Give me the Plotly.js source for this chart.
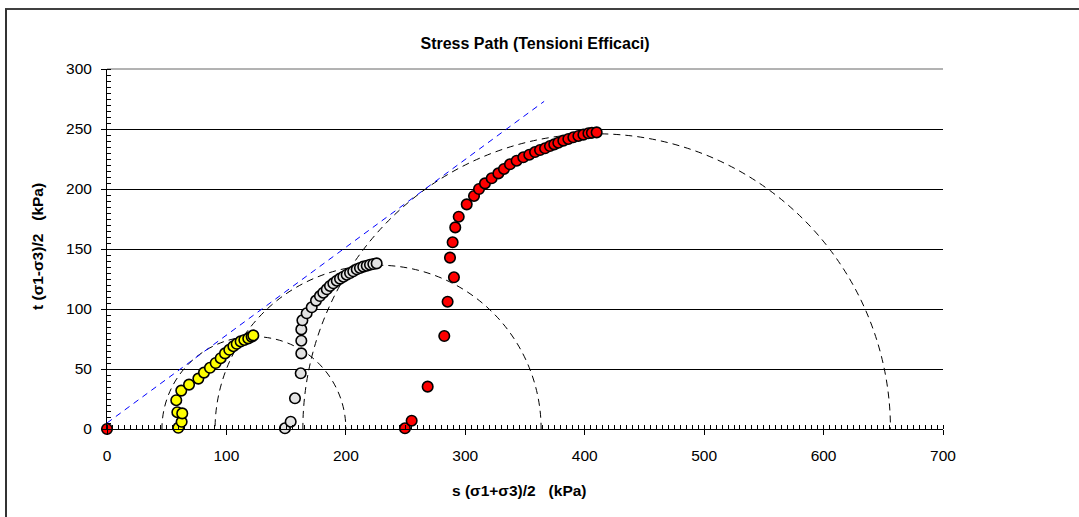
<!DOCTYPE html>
<html>
<head>
<meta charset="utf-8">
<script src="https://cdn.plot.ly/plotly-3.0.1.min.js"></script>
<style>
  html, body { margin: 0; padding: 0; background: #fff; }
  #chart { width: 1079px; height: 517px; }
</style>
</head>
<body>
<div id="chart"></div>
<script>
// ---- data (kPa) ----
const yellowS = [59.7, 62.5, 58.9, 63.0, 58.0, 62.2, 68.7, 76.5, 81.2, 86.2, 91.0, 95.2, 98.8, 102.4, 105.8, 108.6, 111.9, 115.0, 118.3, 121.1, 122.5];
const yellowT = [1.0, 6.0, 14.0, 13.0, 24.0, 32.0, 37.0, 42.0, 47.0, 51.0, 55.0, 59.0, 63.0, 66.0, 69.0, 71.0, 73.0, 74.2, 75.5, 77.0, 78.0];

const whiteS = [149.0, 153.8, 157.4, 162.2, 162.7, 162.7, 162.7, 163.6, 167.2, 171.4, 175.0, 178.3, 181.1, 184.0, 186.7, 189.5, 192.4, 195.1, 197.9, 200.7, 203.5, 206.2, 209.1, 211.8, 214.6, 217.5, 220.2, 223.0, 225.8];
const whiteT = [0.6, 6.1, 25.6, 46.4, 63.0, 73.6, 83.0, 90.6, 96.4, 101.4, 107.0, 110.8, 113.6, 116.4, 119.2, 121.4, 123.6, 125.3, 126.9, 128.6, 130.0, 131.4, 133.1, 134.2, 135.3, 136.1, 136.9, 137.5, 138.0];

const redS = [0, 249.5, 255.1, 268.5, 282.4, 285.2, 290.5, 287.2, 289.4, 291.6, 294.5, 301.2, 307.3, 311.5, 316.5, 322.1, 327.7, 332.4, 337.4, 343.0, 348.6, 353.6, 358.4, 362.6, 366.8, 370.9, 374.5, 377.9, 382.1, 386.3, 390.5, 394.7, 398.9, 403.1, 406.0, 410.0];
const redT = [0, 0.6, 6.9, 35.3, 77.5, 106.1, 126.4, 142.8, 155.6, 168.0, 176.9, 187.2, 194.2, 200.0, 204.7, 208.9, 213.0, 216.7, 220.6, 223.6, 226.4, 228.6, 230.8, 232.5, 233.9, 235.8, 237.2, 238.6, 240.3, 241.7, 243.1, 244.2, 245.3, 246.4, 246.8, 247.2];

// Mohr circles (centre s, radius t)
const circleCentre = [123, 227, 410];
const circleRadius = [77, 136.5, 246];

// failure envelope
const envS = [0, 366];
const envT = [5, 273];

const titleText = 'Stress Path (Tensioni Efficaci)';
const xTitle = 's (σ1+σ3)/2\u00A0\u00A0\u00A0(kPa)';
const yTitle = 't (σ1-σ3)/2\u00A0\u00A0\u00A0(kPa)';

// ---- traces ----
function markerTrace(xs, ys, color) {
  return {
    type: 'scatter', mode: 'markers', x: xs, y: ys, showlegend: false, hoverinfo: 'x+y',
    cliponaxis: false,
    marker: { size: 10.5, color: color, line: { color: '#000', width: 1.6 } }
  };
}

const traces = [
  {
    type: 'scatter', mode: 'lines', x: envS, y: envT, showlegend: false,
    line: { color: '#0000FF', width: 1, dash: '6px,5px' }, hoverinfo: 'skip'
  },
  markerTrace(yellowS, yellowT, '#FFFF00'),
  markerTrace(whiteS, whiteT, '#E3E3E3'),
  markerTrace(redS, redT, '#FF0000')
];

const shapes = circleCentre.map((c, i) => ({
  type: 'circle', xref: 'x', yref: 'y', layer: 'below',
  x0: c - circleRadius[i], x1: c + circleRadius[i],
  y0: -circleRadius[i], y1: circleRadius[i],
  line: { color: '#000', width: 1, dash: '7px,5px' }
}));

// pixel -> paper helpers for frame and titles
const L = 107, R = 943, T = 69, B = 429;
const px2paperX = p => (p - L) / (R - L);
const px2paperY = p => (B - p) / (B - T);

// top grid edge line (at 300)
shapes.push({
  type: 'line', xref: 'paper', yref: 'paper', layer: 'below',
  x0: 0, x1: 1, y0: 1, y1: 1,
  line: { color: '#666', width: 1 }
});
// outer chart frame (top and left edges)
shapes.push({
  type: 'line', xref: 'paper', yref: 'paper', layer: 'above',
  x0: px2paperX(5), x1: px2paperX(1079), y0: px2paperY(9), y1: px2paperY(9),
  line: { color: '#000', width: 1.5 }
});
shapes.push({
  type: 'line', xref: 'paper', yref: 'paper', layer: 'above',
  x0: px2paperX(6), x1: px2paperX(6), y0: px2paperY(9), y1: px2paperY(517),
  line: { color: '#333', width: 2 }
});

const font = 'Arial, "Liberation Sans", sans-serif';
const titleFont = { family: font, size: 15.5, color: '#000' };

const layout = {
  width: 1079, height: 517,
  margin: { l: L, r: 1079 - R, t: T, b: 517 - B, pad: 0 },
  paper_bgcolor: '#fff', plot_bgcolor: '#fff',
  font: { family: font, size: 15.5, color: '#000' },
  title: {
    text: '<b>' + titleText + '</b>', font: { family: font, size: 16, color: '#000' },
    x: 535 / 1079, xanchor: 'center', y: 1 - 43.5 / 517, yanchor: 'middle'
  },
  xaxis: {
    range: [0, 700], dtick: 100, tick0: 0,
    showgrid: false, zeroline: false,
    showline: true, linecolor: '#000', linewidth: 1,
    ticks: 'outside', ticklen: 5, tickcolor: '#000', tickwidth: 1,
    ticklabelstandoff: 7,
    minor: { ticks: 'inside', dtick: 5, ticklen: 4, tickcolor: '#000', tickwidth: 1, showgrid: false },
    tickfont: { family: font, size: 15.5, color: '#000' },
    fixedrange: true
  },
  yaxis: {
    range: [0, 300], dtick: 50, tick0: 0,
    showgrid: true, gridcolor: '#000', gridwidth: 1,
    zeroline: false,
    showline: true, linecolor: '#000', linewidth: 1,
    ticks: 'outside', ticklen: 5, tickcolor: '#000', tickwidth: 1,
    ticklabelstandoff: 6,
    minor: { ticks: 'inside', dtick: 5, ticklen: 4, tickcolor: '#000', tickwidth: 1, showgrid: false },
    tickfont: { family: font, size: 15.5, color: '#000' },
    fixedrange: true
  },
  annotations: [
    {
      text: '<b>' + xTitle + '</b>', font: titleFont, showarrow: false,
      xref: 'paper', yref: 'paper', x: px2paperX(519), y: px2paperY(490),
      xanchor: 'center', yanchor: 'middle'
    },
    {
      text: '<b>' + yTitle + '</b>', font: titleFont, showarrow: false, textangle: -90,
      xref: 'paper', yref: 'paper', x: px2paperX(37), y: px2paperY(247),
      xanchor: 'center', yanchor: 'middle'
    }
  ],
  shapes: shapes
};

Plotly.newPlot('chart', traces, layout, { staticPlot: true, displayModeBar: false });
</script>
</body>
</html>
